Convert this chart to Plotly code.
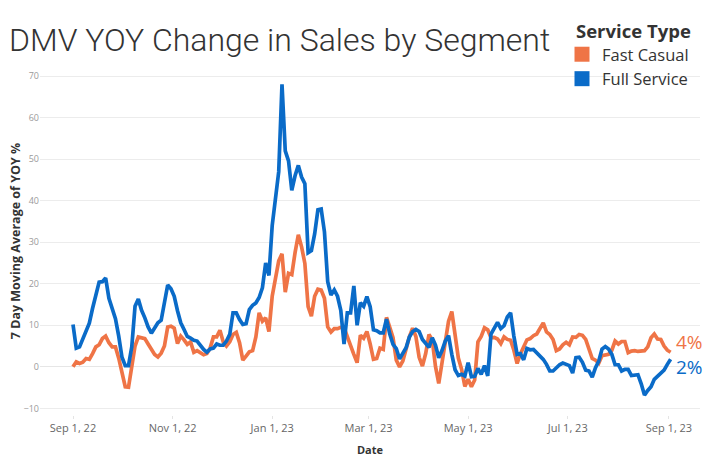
import pandas as pd
import plotly.graph_objects as go

# ---- data (one value every 2 days) ----
start_date = "2022-09-01"
step = "2D"

full_service = [
    10.2, 4.5, 4.8, 6.6, 8.4, 10.5, 14.1, 17.6, 20.4, 20.5,
    21.4, 16.5, 14.1, 11.6, 7.4, 2.3, 0.3, 0.3, 4.8, 14.6,
    16.3, 13.6, 11.8, 9.6, 8.1, 9.2, 10.6, 11.2, 15.6, 19.7,
    18.8, 17.0, 13.5, 10.6, 9.0, 7.3, 6.9, 6.4, 6.2, 5.1,
    4.2, 3.5, 4.3, 4.5, 5.5, 5.2, 5.2, 6.2, 7.8, 13.0,
    13.0, 11.4, 10.2, 10.4, 13.8, 14.8, 15.4, 16.7, 19.0, 25.0,
    22.0, 34.0, 39.8, 47.0, 68.0, 52.0, 49.6, 42.5, 46.0, 48.5,
    45.7, 44.1, 27.5, 28.0, 32.0, 37.8, 38.0, 32.5, 20.5, 17.3,
    18.5, 17.0, 13.6, 5.5, 13.0, 13.0, 19.5, 10.0, 15.4, 14.6,
    16.9, 14.5, 8.9, 8.7, 8.2, 8.2, 11.5, 7.9, 5.4, 4.4,
    1.9, 3.3, 4.6, 7.2, 8.5, 9.0, 8.5, 6.6, 5.8, 4.7,
    7.0, 5.2, 2.2, 3.9, 6.2, 7.5, 3.0, -0.7, -2.1, -1.8,
    -2.2, 1.0, -2.4, -2.3, -0.4, -1.8, 0.3, -2.2, 7.9, 9.2,
    10.7, 9.2, 9.9, 12.0, 13.0, 7.4, 3.0, 3.2, 1.7, 4.4,
    4.1, 4.2, 3.4, 2.4, 1.8, 0.6, -1.0, -1.0, -0.2, 0.5,
    0.9, 0.6, 0.3, -1.5, 2.2, 2.3, 1.1, -0.8, -1.0, -2.5,
    -0.2, 1.4, 4.3, 4.9, 4.3, 3.0, 0.5, 0.5, -1.0, -0.6,
    -0.6, -2.1, -2.1, -1.9, -4.1, -6.8, -5.7, -4.8, -3.0, -2.3,
    -1.6, -0.8, 0.6, 1.8]

fast_casual = [
    0.0, 1.2, 0.8, 1.1, 2.0, 1.8, 3.2, 4.8, 5.3, 6.8,
    7.4, 5.8, 4.8, 4.8, 2.1, -1.8, -4.8, -4.9, -0.4, 5.0,
    7.2, 7.0, 6.8, 5.5, 4.4, 3.0, 2.4, 3.3, 5.0, 9.6,
    9.8, 9.3, 5.6, 7.4, 6.5, 5.4, 6.0, 3.5, 3.9, 3.3,
    2.9, 3.2, 4.5, 7.2, 7.2, 8.8, 6.0, 5.0, 6.0, 7.8,
    8.3, 5.8, 1.6, 2.6, 3.6, 3.9, 7.2, 13.0, 11.0, 11.8,
    8.5, 17.0, 21.7, 25.5, 27.2, 18.0, 22.5, 22.2, 27.5, 31.8,
    28.9, 24.9, 14.5, 12.2, 17.0, 18.7, 18.5, 16.5, 9.6, 8.4,
    9.2, 9.2, 9.5, 9.5, 7.3, 5.4, 3.0, 1.0, 7.6, 6.9,
    8.5, 5.5, 1.8, 2.0, 4.5, 4.2, 11.9, 9.5, 7.0, 1.6,
    0.0, 1.4, 4.4, 7.2, 9.3, 7.3, 2.3, 0.2, 3.2, 7.8,
    6.5, 0.1, -4.0, 1.0, 6.5, 11.0, 13.3, 7.0, 2.1, -0.6,
    -4.7, -3.0, -4.8, -3.2, 6.0, 7.3, 9.4, 8.9, 7.0, 7.1,
    6.7, 5.6, 7.2, 6.6, 6.4, 4.0, 0.8, 3.1, 5.0, 6.5,
    6.8, 7.5, 7.9, 9.4, 10.6, 8.4, 7.8, 6.6, 3.9, 4.3,
    5.3, 5.9, 5.3, 7.2, 7.1, 7.8, 7.6, 6.6, 4.6, 2.0,
    1.6, 0.9, 2.7, 2.9, 3.0, 4.0, 6.2, 5.5, 6.1, 6.1,
    3.4, 3.8, 3.9, 3.7, 3.7, 3.9, 4.8, 7.0, 7.9, 6.7,
    6.6, 5.0, 4.0, 3.5]

series_names = ["Fast Casual", "Full Service"]
y_tick_values = [-10, 0, 10, 20, 30, 40, 50, 60, 70]

dates = pd.date_range(start_date, periods=len(full_service), freq=step)

ORANGE = "#EF7446"
BLUE = "#0A6BC8"
FONT = "Open Sans"

# plot area in pixels (for converting legend/title placement to paper coords)
L, R, T, B = 40, 700, 67, 415
W_PLOT, H_PLOT = R - L, B - T

fig = go.Figure()

series = [(series_names[0], fast_casual, ORANGE),
          (series_names[1], full_service, BLUE)]

for name, vals, color in series:
    fig.add_trace(go.Scatter(x=dates, y=vals, mode="lines", name=name,
                             line=dict(color=color, width=3.7),
                             showlegend=False))

# legend entries with square swatches
for name, vals, color in series:
    fig.add_trace(go.Scatter(x=[None], y=[None], mode="markers", name=name,
                             marker=dict(symbol="square", size=15, color=color),
                             showlegend=True))

# end-of-line value labels
offsets = {series_names[0]: 10, series_names[1]: -8}
for name, vals, color in series:
    fig.add_annotation(x=dates[-1], y=vals[-1], text=f"{vals[-1]:.0f}%",
                       showarrow=False, xanchor="left", yanchor="middle",
                       xshift=3, yshift=offsets[name],
                       font=dict(family=FONT, size=19, color=color))

# legend title
fig.add_annotation(text="<b>Service Type</b>", showarrow=False,
                   xref="paper", yref="paper",
                   x=(574 - L) / W_PLOT, y=(B - 30.5) / H_PLOT,
                   xanchor="left", yanchor="middle",
                   font=dict(family=FONT, size=18.5, color="#333333"))

fig.update_layout(
    width=716, height=462,
    paper_bgcolor="white", plot_bgcolor="white",
    margin=dict(l=L, r=716 - R, t=T, b=462 - B, autoexpand=False),
    title=dict(text="DMV YOY Change in Sales by Segment",
               x=9 / 716, xref="container", xanchor="left",
               y=1 - 40 / 462, yref="container", yanchor="middle",
               font=dict(family="Roboto", size=32,
                         color="#333333", weight=300)),
    legend=dict(font=dict(family=FONT, size=16.5, color="#333333"),
                x=(562 - L) / W_PLOT, xanchor="left",
                y=(B - 37) / H_PLOT, yanchor="top",
                bgcolor="rgba(0,0,0,0)", itemwidth=30,
                tracegroupgap=0),
    showlegend=True,
)

fig.update_xaxes(
    range=["2022-08-11 19:00", "2023-09-20"],
    tickvals=pd.date_range("2022-09-01", "2023-09-01", freq="2MS"),
    tickformat="%b %-d, %y",
    showgrid=False, zeroline=False, showline=False,
    ticks="outside", ticklen=3, tickcolor="#e4e4e4",
    tickfont=dict(family=FONT, size=11, color="#666666"),
    title=dict(text="<b>Date</b>", standoff=12,
               font=dict(family=FONT, size=11, color="#333333")),
)

fig.update_yaxes(
    range=[-11.6, 72.2],
    tickvals=y_tick_values,
    showgrid=True, gridcolor="#ececec", gridwidth=1,
    zeroline=True, zerolinecolor="#e6e6e6", zerolinewidth=1,
    showline=False, ticks="",
    tickfont=dict(family=FONT, size=9, color="#9a9a9a"),
    title=dict(text="<b>7 Day Moving Average of YOY %</b>", standoff=0,
               font=dict(family=FONT, size=12.5, color="#333333")),
)

fig.write_html("out.html", config={"displayModeBar": False},
               post_script="document.body.style.margin='0';")
